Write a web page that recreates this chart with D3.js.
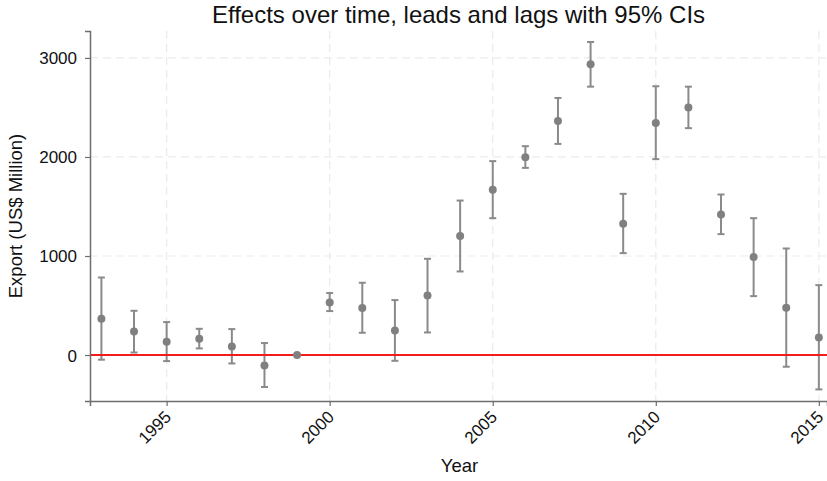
<!DOCTYPE html>
<html>
<head>
<meta charset="utf-8">
<title>Effects over time</title>
<script src="https://d3js.org/d3.v7.min.js"></script>
<style>
  body { margin: 0; background: #fff; }
  text { font-family: "Liberation Sans", Arial, sans-serif; }
</style>
</head>
<body>
<svg id="chart" width="827" height="481"></svg>
<script>
// data
var years = [1993, 1994, 1995, 1996, 1997, 1998, 1999, 2000, 2001, 2002, 2003, 2004,
             2005, 2006, 2007, 2008, 2009, 2010, 2011, 2012, 2013, 2014, 2015];
var estimates = [366, 238, 134, 164, 87, -105, 0, 531, 474, 248, 601, 1201,
                 1668, 1998, 2364, 2936, 1325, 2344, 2499, 1419, 989, 477, 178];
var lower = [-47, 26, -61, 67, -85, -323, null, 444, 225, -58, 228, 844,
             1382, 1890, 2132, 2710, 1029, 1978, 2291, 1221, 595, -118, -347];
var upper = [783, 447, 333, 265, 262, 121, null, 626, 730, 555, 972, 1560,
             1958, 2109, 2596, 3161, 1628, 2714, 2710, 1621, 1382, 1076, 706];
var xTicks = [1995, 2000, 2005, 2010, 2015];
var yTicks = [0, 1000, 2000, 3000];

var svg = d3.select("#chart");
var margin = {top: 31, right: 0, bottom: 80, left: 90};
var W = 827, H = 481;

var x = d3.scaleLinear()
    .domain([1992.65, 2015.25])
    .range([margin.left, W - margin.right]);
var y = d3.scaleLinear()
    .domain([-464, 3272])
    .range([H - margin.bottom, margin.top]);

var rows = years.map(function(d, i) {
    return {year: d, est: estimates[i], lo: lower[i], hi: upper[i]};
});

// grid
var grid = svg.append("g");
grid.selectAll(".gx").data(xTicks).enter().append("line")
    .attr("x1", function(d){ return x(d); }).attr("x2", function(d){ return x(d); })
    .attr("y1", margin.top).attr("y2", H - margin.bottom)
    .attr("stroke", "#ebebeb").attr("stroke-width", 1.2)
    .attr("stroke-dasharray", "8,5");
grid.selectAll(".gy").data(yTicks).enter().append("line")
    .attr("x1", margin.left).attr("x2", W - margin.right)
    .attr("y1", function(d){ return y(d); }).attr("y2", function(d){ return y(d); })
    .attr("stroke", "#ebebeb").attr("stroke-width", 1.2)
    .attr("stroke-dasharray", "8,5");

// error bars
var ci = rows.filter(function(d){ return d.lo !== null; });
var bars = svg.append("g").attr("stroke", "#8a8a8a").attr("stroke-width", 2);
bars.selectAll(".v").data(ci).enter().append("line")
    .attr("x1", function(d){ return x(d.year); }).attr("x2", function(d){ return x(d.year); })
    .attr("y1", function(d){ return y(d.lo); }).attr("y2", function(d){ return y(d.hi); });
bars.selectAll(".ct").data(ci).enter().append("line")
    .attr("x1", function(d){ return x(d.year) - 3.5; }).attr("x2", function(d){ return x(d.year) + 3.5; })
    .attr("y1", function(d){ return y(d.hi); }).attr("y2", function(d){ return y(d.hi); });
bars.selectAll(".cb").data(ci).enter().append("line")
    .attr("x1", function(d){ return x(d.year) - 3.5; }).attr("x2", function(d){ return x(d.year) + 3.5; })
    .attr("y1", function(d){ return y(d.lo); }).attr("y2", function(d){ return y(d.lo); });

// zero line
svg.append("line")
    .attr("x1", margin.left).attr("x2", W)
    .attr("y1", y(0)).attr("y2", y(0))
    .attr("stroke", "#f21c1c").attr("stroke-width", 2);

// points
svg.append("g").selectAll("circle").data(rows).enter().append("circle")
    .attr("cx", function(d){ return x(d.year); })
    .attr("cy", function(d){ return y(d.est); })
    .attr("r", 4)
    .attr("fill", "#808080");

// axes
var xAxis = svg.append("g")
    .attr("transform", "translate(0," + (H - margin.bottom) + ")")
    .call(d3.axisBottom(x).tickValues(xTicks).tickFormat(d3.format("d")).tickSizeOuter(0).tickSize(5));
var yAxis = svg.append("g")
    .attr("transform", "translate(" + margin.left + ",0)")
    .call(d3.axisLeft(y).tickValues(yTicks).tickFormat(d3.format("d")).tickSizeOuter(0).tickSize(5));

[xAxis, yAxis].forEach(function(a) {
    a.select(".domain").attr("stroke", "#6e6e6e").attr("stroke-width", 1.5);
    a.selectAll(".tick line").attr("stroke", "#6e6e6e").attr("stroke-width", 1.2);
    a.selectAll(".tick text").attr("fill", "#111").style("font-size", "17px")
        .style("font-family", "'Liberation Sans', Arial, sans-serif");
});
yAxis.selectAll(".tick text").attr("x", -13).attr("dy", "0.35em");
xAxis.selectAll(".tick text")
    .attr("text-anchor", "end")
    .attr("dy", null).attr("y", 0).attr("x", 0)
    .attr("transform", "translate(5,17) rotate(-45)");

// labels
svg.append("text")
    .attr("x", (margin.left + W) / 2).attr("y", 23)
    .attr("text-anchor", "middle").style("font-size", "24px").attr("fill", "#111")
    .text("Effects over time, leads and lags with 95% CIs");
svg.append("text")
    .attr("x", (margin.left + W) / 2 + 1).attr("y", 472)
    .attr("text-anchor", "middle").style("font-size", "18.5px").attr("fill", "#111")
    .text("Year");
svg.append("text")
    .attr("transform", "translate(22," + ((margin.top + H - margin.bottom) / 2) + ") rotate(-90)")
    .attr("text-anchor", "middle").style("font-size", "18.5px").attr("fill", "#111")
    .text("Export (US$ Million)");
</script>
</body>
</html>
